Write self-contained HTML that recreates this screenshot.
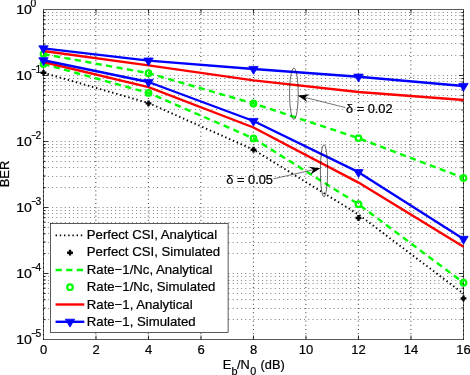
<!DOCTYPE html>
<html lang="en"><head><meta charset="utf-8"><title>BER vs Eb/N0</title>
<style>html,body{margin:0;padding:0;background:#fff}svg{display:block}text{font-family:"Liberation Sans",Arial,Helvetica,sans-serif;fill:#000;stroke:#000;stroke-width:0.22px}</style>
</head><body>
<svg width="470" height="375" viewBox="0 0 470 375">
<rect x="0" y="0" width="470" height="375" fill="#fff"/>
<g stroke="#000" stroke-width="1" stroke-dasharray="1 3.2" fill="none" opacity="0.5">
<line x1="43.7" y1="75.5" x2="463.5" y2="75.5"/>
<line x1="43.7" y1="55.5" x2="463.5" y2="55.5"/>
<line x1="43.7" y1="43.5" x2="463.5" y2="43.5"/>
<line x1="43.7" y1="35.5" x2="463.5" y2="35.5"/>
<line x1="43.7" y1="29.5" x2="463.5" y2="29.5"/>
<line x1="43.7" y1="23.5" x2="463.5" y2="23.5"/>
<line x1="43.7" y1="19.5" x2="463.5" y2="19.5"/>
<line x1="43.7" y1="15.5" x2="463.5" y2="15.5"/>
<line x1="43.7" y1="12.5" x2="463.5" y2="12.5"/>
<line x1="43.7" y1="141.5" x2="463.5" y2="141.5"/>
<line x1="43.7" y1="121.5" x2="463.5" y2="121.5"/>
<line x1="43.7" y1="109.5" x2="463.5" y2="109.5"/>
<line x1="43.7" y1="101.5" x2="463.5" y2="101.5"/>
<line x1="43.7" y1="95.5" x2="463.5" y2="95.5"/>
<line x1="43.7" y1="89.5" x2="463.5" y2="89.5"/>
<line x1="43.7" y1="85.5" x2="463.5" y2="85.5"/>
<line x1="43.7" y1="81.5" x2="463.5" y2="81.5"/>
<line x1="43.7" y1="78.5" x2="463.5" y2="78.5"/>
<line x1="43.7" y1="207.5" x2="463.5" y2="207.5"/>
<line x1="43.7" y1="187.5" x2="463.5" y2="187.5"/>
<line x1="43.7" y1="176.5" x2="463.5" y2="176.5"/>
<line x1="43.7" y1="167.5" x2="463.5" y2="167.5"/>
<line x1="43.7" y1="161.5" x2="463.5" y2="161.5"/>
<line x1="43.7" y1="156.5" x2="463.5" y2="156.5"/>
<line x1="43.7" y1="151.5" x2="463.5" y2="151.5"/>
<line x1="43.7" y1="147.5" x2="463.5" y2="147.5"/>
<line x1="43.7" y1="144.5" x2="463.5" y2="144.5"/>
<line x1="43.7" y1="273.5" x2="463.5" y2="273.5"/>
<line x1="43.7" y1="253.5" x2="463.5" y2="253.5"/>
<line x1="43.7" y1="242.5" x2="463.5" y2="242.5"/>
<line x1="43.7" y1="233.5" x2="463.5" y2="233.5"/>
<line x1="43.7" y1="227.5" x2="463.5" y2="227.5"/>
<line x1="43.7" y1="222.5" x2="463.5" y2="222.5"/>
<line x1="43.7" y1="217.5" x2="463.5" y2="217.5"/>
<line x1="43.7" y1="213.5" x2="463.5" y2="213.5"/>
<line x1="43.7" y1="210.5" x2="463.5" y2="210.5"/>
<line x1="43.7" y1="319.5" x2="463.5" y2="319.5"/>
<line x1="43.7" y1="308.5" x2="463.5" y2="308.5"/>
<line x1="43.7" y1="299.5" x2="463.5" y2="299.5"/>
<line x1="43.7" y1="293.5" x2="463.5" y2="293.5"/>
<line x1="43.7" y1="288.5" x2="463.5" y2="288.5"/>
<line x1="43.7" y1="283.5" x2="463.5" y2="283.5"/>
<line x1="43.7" y1="280.5" x2="463.5" y2="280.5"/>
<line x1="43.7" y1="276.5" x2="463.5" y2="276.5"/>
</g>
<g stroke="#000" stroke-width="1" stroke-dasharray="1 3.2" fill="none" opacity="0.8">
<line x1="95.85" y1="9.8" x2="95.85" y2="339.5"/>
<line x1="148.35" y1="9.8" x2="148.35" y2="339.5"/>
<line x1="200.85" y1="9.8" x2="200.85" y2="339.5"/>
<line x1="253.35" y1="9.8" x2="253.35" y2="339.5"/>
<line x1="305.85" y1="9.8" x2="305.85" y2="339.5"/>
<line x1="358.35" y1="9.8" x2="358.35" y2="339.5"/>
<line x1="410.85" y1="9.8" x2="410.85" y2="339.5"/>
</g>
<path d="M43.2 9.5H463.8M43.2 339.5H463.8" fill="none" stroke="#000" stroke-width="0.65"/>
<path d="M43.5 9.5V339.5M463.5 9.5V339.5" fill="none" stroke="#000" stroke-width="0.65"/>
<path d="M43.5 339.5V9.5M463.5 339.5V9.5" fill="none" stroke="#000" stroke-width="1" stroke-dasharray="1.2 3" opacity="0.9"/>
<g stroke="#000" stroke-width="0.8">
<line x1="96.00" y1="339.5" x2="96.00" y2="335.5"/>
<line x1="96.00" y1="9.5" x2="96.00" y2="13.5"/>
<line x1="148.50" y1="339.5" x2="148.50" y2="335.5"/>
<line x1="148.50" y1="9.5" x2="148.50" y2="13.5"/>
<line x1="201.00" y1="339.5" x2="201.00" y2="335.5"/>
<line x1="201.00" y1="9.5" x2="201.00" y2="13.5"/>
<line x1="253.50" y1="339.5" x2="253.50" y2="335.5"/>
<line x1="253.50" y1="9.5" x2="253.50" y2="13.5"/>
<line x1="306.00" y1="339.5" x2="306.00" y2="335.5"/>
<line x1="306.00" y1="9.5" x2="306.00" y2="13.5"/>
<line x1="358.50" y1="339.5" x2="358.50" y2="335.5"/>
<line x1="358.50" y1="9.5" x2="358.50" y2="13.5"/>
<line x1="411.00" y1="339.5" x2="411.00" y2="335.5"/>
<line x1="411.00" y1="9.5" x2="411.00" y2="13.5"/>
<line x1="43.5" y1="55.63" x2="45.7" y2="55.63"/>
<line x1="463.5" y1="55.63" x2="461.3" y2="55.63"/>
<line x1="43.5" y1="44.01" x2="45.7" y2="44.01"/>
<line x1="463.5" y1="44.01" x2="461.3" y2="44.01"/>
<line x1="43.5" y1="35.76" x2="45.7" y2="35.76"/>
<line x1="463.5" y1="35.76" x2="461.3" y2="35.76"/>
<line x1="43.5" y1="29.37" x2="45.7" y2="29.37"/>
<line x1="463.5" y1="29.37" x2="461.3" y2="29.37"/>
<line x1="43.5" y1="24.14" x2="45.7" y2="24.14"/>
<line x1="463.5" y1="24.14" x2="461.3" y2="24.14"/>
<line x1="43.5" y1="19.72" x2="45.7" y2="19.72"/>
<line x1="463.5" y1="19.72" x2="461.3" y2="19.72"/>
<line x1="43.5" y1="15.90" x2="45.7" y2="15.90"/>
<line x1="463.5" y1="15.90" x2="461.3" y2="15.90"/>
<line x1="43.5" y1="12.52" x2="45.7" y2="12.52"/>
<line x1="463.5" y1="12.52" x2="461.3" y2="12.52"/>
<line x1="43.5" y1="75.50" x2="48.0" y2="75.50"/>
<line x1="463.5" y1="75.50" x2="459.0" y2="75.50"/>
<line x1="43.5" y1="121.63" x2="45.7" y2="121.63"/>
<line x1="463.5" y1="121.63" x2="461.3" y2="121.63"/>
<line x1="43.5" y1="110.01" x2="45.7" y2="110.01"/>
<line x1="463.5" y1="110.01" x2="461.3" y2="110.01"/>
<line x1="43.5" y1="101.76" x2="45.7" y2="101.76"/>
<line x1="463.5" y1="101.76" x2="461.3" y2="101.76"/>
<line x1="43.5" y1="95.37" x2="45.7" y2="95.37"/>
<line x1="463.5" y1="95.37" x2="461.3" y2="95.37"/>
<line x1="43.5" y1="90.14" x2="45.7" y2="90.14"/>
<line x1="463.5" y1="90.14" x2="461.3" y2="90.14"/>
<line x1="43.5" y1="85.72" x2="45.7" y2="85.72"/>
<line x1="463.5" y1="85.72" x2="461.3" y2="85.72"/>
<line x1="43.5" y1="81.90" x2="45.7" y2="81.90"/>
<line x1="463.5" y1="81.90" x2="461.3" y2="81.90"/>
<line x1="43.5" y1="78.52" x2="45.7" y2="78.52"/>
<line x1="463.5" y1="78.52" x2="461.3" y2="78.52"/>
<line x1="43.5" y1="141.50" x2="48.0" y2="141.50"/>
<line x1="463.5" y1="141.50" x2="459.0" y2="141.50"/>
<line x1="43.5" y1="187.63" x2="45.7" y2="187.63"/>
<line x1="463.5" y1="187.63" x2="461.3" y2="187.63"/>
<line x1="43.5" y1="176.01" x2="45.7" y2="176.01"/>
<line x1="463.5" y1="176.01" x2="461.3" y2="176.01"/>
<line x1="43.5" y1="167.76" x2="45.7" y2="167.76"/>
<line x1="463.5" y1="167.76" x2="461.3" y2="167.76"/>
<line x1="43.5" y1="161.37" x2="45.7" y2="161.37"/>
<line x1="463.5" y1="161.37" x2="461.3" y2="161.37"/>
<line x1="43.5" y1="156.14" x2="45.7" y2="156.14"/>
<line x1="463.5" y1="156.14" x2="461.3" y2="156.14"/>
<line x1="43.5" y1="151.72" x2="45.7" y2="151.72"/>
<line x1="463.5" y1="151.72" x2="461.3" y2="151.72"/>
<line x1="43.5" y1="147.90" x2="45.7" y2="147.90"/>
<line x1="463.5" y1="147.90" x2="461.3" y2="147.90"/>
<line x1="43.5" y1="144.52" x2="45.7" y2="144.52"/>
<line x1="463.5" y1="144.52" x2="461.3" y2="144.52"/>
<line x1="43.5" y1="207.50" x2="48.0" y2="207.50"/>
<line x1="463.5" y1="207.50" x2="459.0" y2="207.50"/>
<line x1="43.5" y1="253.63" x2="45.7" y2="253.63"/>
<line x1="463.5" y1="253.63" x2="461.3" y2="253.63"/>
<line x1="43.5" y1="242.01" x2="45.7" y2="242.01"/>
<line x1="463.5" y1="242.01" x2="461.3" y2="242.01"/>
<line x1="43.5" y1="233.76" x2="45.7" y2="233.76"/>
<line x1="463.5" y1="233.76" x2="461.3" y2="233.76"/>
<line x1="43.5" y1="227.37" x2="45.7" y2="227.37"/>
<line x1="463.5" y1="227.37" x2="461.3" y2="227.37"/>
<line x1="43.5" y1="222.14" x2="45.7" y2="222.14"/>
<line x1="463.5" y1="222.14" x2="461.3" y2="222.14"/>
<line x1="43.5" y1="217.72" x2="45.7" y2="217.72"/>
<line x1="463.5" y1="217.72" x2="461.3" y2="217.72"/>
<line x1="43.5" y1="213.90" x2="45.7" y2="213.90"/>
<line x1="463.5" y1="213.90" x2="461.3" y2="213.90"/>
<line x1="43.5" y1="210.52" x2="45.7" y2="210.52"/>
<line x1="463.5" y1="210.52" x2="461.3" y2="210.52"/>
<line x1="43.5" y1="273.50" x2="48.0" y2="273.50"/>
<line x1="463.5" y1="273.50" x2="459.0" y2="273.50"/>
<line x1="43.5" y1="319.63" x2="45.7" y2="319.63"/>
<line x1="463.5" y1="319.63" x2="461.3" y2="319.63"/>
<line x1="43.5" y1="308.01" x2="45.7" y2="308.01"/>
<line x1="463.5" y1="308.01" x2="461.3" y2="308.01"/>
<line x1="43.5" y1="299.76" x2="45.7" y2="299.76"/>
<line x1="463.5" y1="299.76" x2="461.3" y2="299.76"/>
<line x1="43.5" y1="293.37" x2="45.7" y2="293.37"/>
<line x1="463.5" y1="293.37" x2="461.3" y2="293.37"/>
<line x1="43.5" y1="288.14" x2="45.7" y2="288.14"/>
<line x1="463.5" y1="288.14" x2="461.3" y2="288.14"/>
<line x1="43.5" y1="283.72" x2="45.7" y2="283.72"/>
<line x1="463.5" y1="283.72" x2="461.3" y2="283.72"/>
<line x1="43.5" y1="279.90" x2="45.7" y2="279.90"/>
<line x1="463.5" y1="279.90" x2="461.3" y2="279.90"/>
<line x1="43.5" y1="276.52" x2="45.7" y2="276.52"/>
<line x1="463.5" y1="276.52" x2="461.3" y2="276.52"/>
</g>
<g fill="none" stroke-linejoin="round">
<polyline points="43.5,72.8 148.5,103.0 253.5,149.7 358.5,214.5 463.5,293.7" stroke="#000" stroke-width="1.9" stroke-dasharray="1.4 2.8"/>
<polyline points="43.5,54.1 148.5,73.2 253.5,103.5 358.5,138.1 463.5,177.9" stroke="#00ff00" stroke-width="2.4" stroke-dasharray="6.2 4.4"/>
<polyline points="43.5,63.9 148.5,92.9 253.5,138.4 358.5,204.2 463.5,282.7" stroke="#00ff00" stroke-width="2.4" stroke-dasharray="6.2 4.4"/>
</g>
<path d="M40.6 72.8H46.4M43.5 69.9V75.7" stroke="#000" stroke-width="2.4" fill="none"/>
<path d="M145.6 103.4H151.4M148.5 100.5V106.3" stroke="#000" stroke-width="2.4" fill="none"/>
<path d="M250.6 149.7H256.4M253.5 146.8V152.6" stroke="#000" stroke-width="2.4" fill="none"/>
<path d="M355.6 218.0H361.4M358.5 215.1V220.9" stroke="#000" stroke-width="2.4" fill="none"/>
<path d="M460.6 298.4H466.4M463.5 295.5V301.3" stroke="#000" stroke-width="2.4" fill="none"/>
<circle cx="43.5" cy="54.1" r="2.8" stroke="#00ff00" stroke-width="2.2" fill="none"/>
<circle cx="148.5" cy="73.2" r="2.8" stroke="#00ff00" stroke-width="2.2" fill="none"/>
<circle cx="253.5" cy="103.5" r="2.8" stroke="#00ff00" stroke-width="2.2" fill="none"/>
<circle cx="358.5" cy="138.1" r="2.8" stroke="#00ff00" stroke-width="2.2" fill="none"/>
<circle cx="463.5" cy="177.9" r="2.8" stroke="#00ff00" stroke-width="2.2" fill="none"/>
<circle cx="43.5" cy="63.9" r="2.8" stroke="#00ff00" stroke-width="2.2" fill="none"/>
<circle cx="148.5" cy="92.9" r="2.8" stroke="#00ff00" stroke-width="2.2" fill="none"/>
<circle cx="253.5" cy="138.4" r="2.8" stroke="#00ff00" stroke-width="2.2" fill="none"/>
<circle cx="358.5" cy="204.2" r="2.8" stroke="#00ff00" stroke-width="2.2" fill="none"/>
<circle cx="463.5" cy="282.7" r="2.8" stroke="#00ff00" stroke-width="2.2" fill="none"/>
<g fill="none" stroke-linejoin="round">
<polyline points="43.5,51.0 148.5,65.4 253.5,80.4 358.5,92.0 463.5,100.0" stroke="#ff0000" stroke-width="2.4"/>
<polyline points="43.5,62.0 148.5,87.2 253.5,127.5 358.5,182.6 463.5,246.8" stroke="#ff0000" stroke-width="2.4"/>
<polyline points="43.5,48.4 148.5,60.6 253.5,69.0 358.5,76.7 463.5,86.0" stroke="#0000ff" stroke-width="2.4"/>
<polyline points="43.5,60.3 148.5,82.0 253.5,121.0 358.5,172.2 463.5,238.9" stroke="#0000ff" stroke-width="2.4"/>
</g>
<path d="M38.8 45.8L48.2 45.8L43.5 53.7Z" fill="#0000ff" stroke="#0000ff" stroke-width="0.8" stroke-linejoin="miter"/>
<path d="M143.8 58.0L153.2 58.0L148.5 65.9Z" fill="#0000ff" stroke="#0000ff" stroke-width="0.8" stroke-linejoin="miter"/>
<path d="M248.8 66.4L258.2 66.4L253.5 74.3Z" fill="#0000ff" stroke="#0000ff" stroke-width="0.8" stroke-linejoin="miter"/>
<path d="M353.8 74.1L363.2 74.1L358.5 82.0Z" fill="#0000ff" stroke="#0000ff" stroke-width="0.8" stroke-linejoin="miter"/>
<path d="M458.8 83.4L468.2 83.4L463.5 91.3Z" fill="#0000ff" stroke="#0000ff" stroke-width="0.8" stroke-linejoin="miter"/>
<path d="M38.8 57.7L48.2 57.7L43.5 65.6Z" fill="#0000ff" stroke="#0000ff" stroke-width="0.8" stroke-linejoin="miter"/>
<path d="M143.8 79.4L153.2 79.4L148.5 87.3Z" fill="#0000ff" stroke="#0000ff" stroke-width="0.8" stroke-linejoin="miter"/>
<path d="M248.8 118.4L258.2 118.4L253.5 126.3Z" fill="#0000ff" stroke="#0000ff" stroke-width="0.8" stroke-linejoin="miter"/>
<path d="M353.8 169.6L363.2 169.6L358.5 177.5Z" fill="#0000ff" stroke="#0000ff" stroke-width="0.8" stroke-linejoin="miter"/>
<path d="M458.8 236.3L468.2 236.3L463.5 244.2Z" fill="#0000ff" stroke="#0000ff" stroke-width="0.8" stroke-linejoin="miter"/>
<g fill="none" stroke="#000" stroke-width="0.6">
<ellipse cx="293.9" cy="93.7" rx="4.3" ry="25.7"/>
<ellipse cx="324.0" cy="170.8" rx="3.6" ry="26.0"/>
<line x1="345.6" y1="107.6" x2="303" y2="96.9" stroke-width="0.55"/>
<line x1="273.5" y1="178.8" x2="315" y2="169.4" stroke-width="0.55"/>
</g>
<path d="M297.6 95.6L309.2 94.5L304.8 97.4L307.3 102.1Z" fill="#000"/>
<path d="M320.4 168.2L310.5 174.4L313.2 169.8L308.8 166.8Z" fill="#000"/>
<text x="346.0" y="112.5" font-size="12.6" textLength="46.6" lengthAdjust="spacingAndGlyphs">δ = 0.02</text>
<text x="226.2" y="184.3" font-size="12.6" textLength="46.8" lengthAdjust="spacingAndGlyphs">δ = 0.05</text>
<rect x="50.4" y="223.6" width="177.7" height="108.8" fill="#fff" stroke="#000" stroke-width="0.65"/>
<line x1="55.6" y1="235.4" x2="84.3" y2="235.4" stroke="#000" stroke-width="1.9" stroke-dasharray="1.4 2.8"/>
<path d="M67.1 252.7H72.9M70.0 249.8V255.6" stroke="#000" stroke-width="2.4" fill="none"/>
<line x1="55.6" y1="270.0" x2="84.3" y2="270.0" stroke="#00ff00" stroke-width="2.4" stroke-dasharray="6.2 4.4"/>
<circle cx="70.0" cy="287.2" r="2.8" stroke="#00ff00" stroke-width="2.2" fill="none"/>
<line x1="55.6" y1="304.5" x2="84.3" y2="304.5" stroke="#ff0000" stroke-width="2.4"/>
<line x1="55.6" y1="321.8" x2="84.3" y2="321.8" stroke="#0000ff" stroke-width="2.4"/>
<path d="M65.3 319.2L74.7 319.2L70.0 327.1Z" fill="#0000ff" stroke="#0000ff" stroke-width="0.8" stroke-linejoin="miter"/>
<text x="86.8" y="239.4" font-size="13.18">Perfect CSI, Analytical</text>
<text x="86.8" y="256.3" font-size="13.18">Perfect CSI, Simulated</text>
<text x="86.8" y="273.7" font-size="13.18">Rate−1/Nc, Analytical</text>
<text x="86.8" y="291.0" font-size="13.18">Rate−1/Nc, Simulated</text>
<text x="86.8" y="309.0" font-size="13.18">Rate−1, Analytical</text>
<text x="86.8" y="326.0" font-size="13.18">Rate−1, Simulated</text>
<text x="16.2" y="13.8" font-size="13" textLength="15.7" lengthAdjust="spacingAndGlyphs">10</text>
<text x="30.6" y="6.9" font-size="10.3">0</text>
<text x="16.2" y="79.8" font-size="13" textLength="15.7" lengthAdjust="spacingAndGlyphs">10</text>
<text y="72.9" font-size="10.3"><tspan x="31.2" textLength="4.6" lengthAdjust="spacingAndGlyphs">−</tspan><tspan x="35.6">1</tspan></text>
<text x="16.2" y="145.8" font-size="13" textLength="15.7" lengthAdjust="spacingAndGlyphs">10</text>
<text y="138.9" font-size="10.3"><tspan x="31.2" textLength="4.6" lengthAdjust="spacingAndGlyphs">−</tspan><tspan x="35.6">2</tspan></text>
<text x="16.2" y="211.8" font-size="13" textLength="15.7" lengthAdjust="spacingAndGlyphs">10</text>
<text y="204.9" font-size="10.3"><tspan x="31.2" textLength="4.6" lengthAdjust="spacingAndGlyphs">−</tspan><tspan x="35.6">3</tspan></text>
<text x="16.2" y="277.8" font-size="13" textLength="15.7" lengthAdjust="spacingAndGlyphs">10</text>
<text y="270.9" font-size="10.3"><tspan x="31.2" textLength="4.6" lengthAdjust="spacingAndGlyphs">−</tspan><tspan x="35.6">4</tspan></text>
<text x="16.2" y="343.8" font-size="13" textLength="15.7" lengthAdjust="spacingAndGlyphs">10</text>
<text y="336.9" font-size="10.3"><tspan x="31.2" textLength="4.6" lengthAdjust="spacingAndGlyphs">−</tspan><tspan x="35.6">5</tspan></text>
<text x="43.5" y="354.3" font-size="13" text-anchor="middle">0</text>
<text x="96.0" y="354.3" font-size="13" text-anchor="middle">2</text>
<text x="148.5" y="354.3" font-size="13" text-anchor="middle">4</text>
<text x="201.0" y="354.3" font-size="13" text-anchor="middle">6</text>
<text x="253.5" y="354.3" font-size="13" text-anchor="middle">8</text>
<text x="306.0" y="354.3" font-size="13" text-anchor="middle">10</text>
<text x="358.5" y="354.3" font-size="13" text-anchor="middle">12</text>
<text x="411.0" y="354.3" font-size="13" text-anchor="middle">14</text>
<text x="463.5" y="354.3" font-size="13" text-anchor="middle">16</text>
<text y="368.6" font-size="12.8"><tspan x="222.8">E</tspan><tspan x="231.6" dy="6.0" font-size="10.8">b</tspan><tspan x="237.0" dy="-6.0">/N</tspan><tspan x="250.2" dy="6.0" font-size="10.8">0</tspan><tspan x="257.0" dy="-6.0"> (dB)</tspan></text>
<text transform="translate(9.4 174) rotate(-90)" font-size="12.9" text-anchor="middle">BER</text>
</svg>
</body></html>
